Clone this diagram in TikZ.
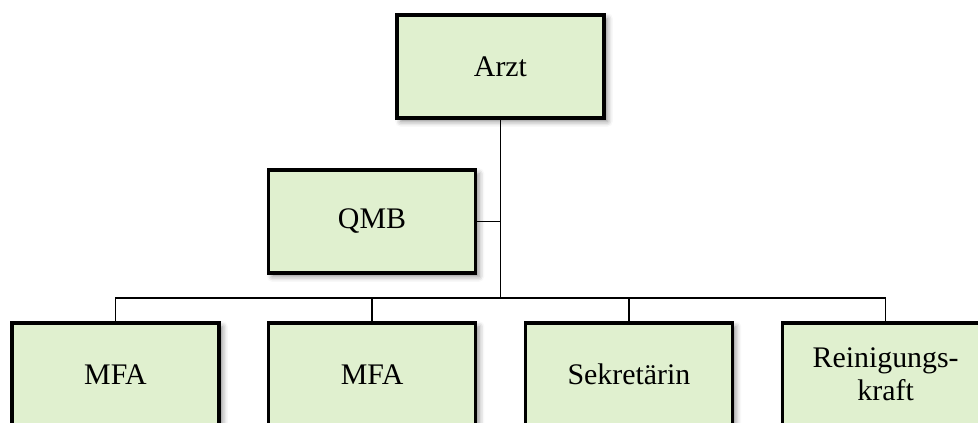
\documentclass[tikz,border=0pt]{standalone}
\usepackage{fontspec}
\setmainfont{Liberation Serif}
\usetikzlibrary{shapes,shadows.blur,calc}
\definecolor{boxgreen}{RGB}{224,240,207}
\tikzstyle{line} = [draw, line width=0.8pt]
\tikzstyle{block} = [draw, line width=1.8pt, fill=boxgreen, rectangle, align=center, minimum width=4.14cm, minimum height=2.06cm, font=\fontsize{17}{18.5}\selectfont, blur shadow={shadow xshift=2pt, shadow yshift=-2pt, shadow blur radius=3pt, shadow opacity=45}]

\begin{document}
\begin{tikzpicture}[node distance=5.134cm, auto]
        \useasboundingbox (0,0) rectangle (19.56,-8.46);
        \node[block] (arzt) at (10.01,-1.33) {Arzt};
        \node[block] (qmb) at (7.44,-4.43) {QMB};
        \node[block] (mfa1) at (2.31,-7.49) {MFA};
        \node[block, right of=mfa1] (mfa2) {MFA};
        \node[block, right of=mfa2] (sekr) {Sekretärin};
        \node[block, right of=sekr] (rein) {Reinigungs-\\kraft};
        \coordinate (bus) at (10.01,-5.96);
        \path[line] (arzt) -- (bus);
        \path[line] (qmb) -- (qmb -| bus);
        \path[line] (mfa1) |- (bus) -| (rein);
        \path[line] (mfa2) -- (mfa2 |- bus);
        \path[line] (sekr) -- (sekr |- bus);
    \end{tikzpicture}
\end{document}
